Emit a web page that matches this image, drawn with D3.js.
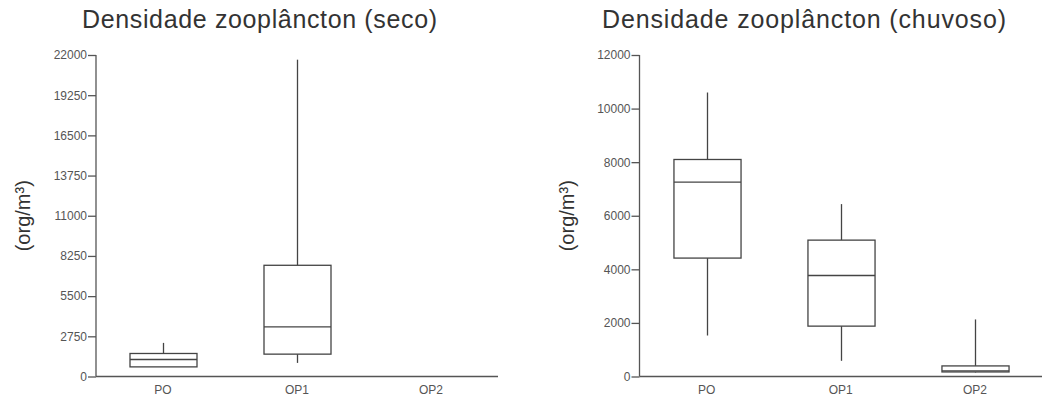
<!DOCTYPE html>
<html>
<head>
<meta charset="utf-8">
<script src="https://cdn.jsdelivr.net/npm/d3@7/dist/d3.min.js"></script>
<style>
  html, body { margin: 0; padding: 0; background: #fff; }
  svg { display: block; }
</style>
</head>
<body>
<svg id="chart" width="1043" height="399"></svg>
<script>
// Sampling stations
const categories = ["PO", "OP1", "OP2"];

// Dry season box statistics (org/m³): min, q1, median, q3, max
const secoMin    = [658, 930, null];
const secoQ1     = [658, 1530, null];
const secoMedian = [1165, 3400, null];
const secoQ3     = [1575, 7610, null];
const secoMax    = [2300, 21680, null];
const secoTicks  = [0, 2750, 5500, 8250, 11000, 13750, 16500, 19250, 22000];

// Rainy season box statistics (org/m³)
const chuvaMin    = [1530, 585, 150];
const chuvaQ1     = [4420, 1880, 170];
const chuvaMedian = [7255, 3770, 210];
const chuvaQ3     = [8100, 5090, 395];
const chuvaMax    = [10600, 6435, 2130];
const chuvaTicks  = [0, 2000, 4000, 6000, 8000, 10000, 12000];

const svg = d3.select("#chart");
const axisColor = "#555";
const textColor = "#555";
const boxColor = "#444";
const font = "Arial, 'Liberation Sans', sans-serif";

function panel(opts) {
  const { title, titleX, titleWidth, left, right, top, bottom, yMax, ticks, labelX,
          mins, q1s, meds, q3s, maxs } = opts;

  const g = svg.append("g");

  const x = d3.scaleBand().domain(categories).range([left, right]).padding(0);
  const y = d3.scaleLinear().domain([0, yMax]).range([bottom, top]);

  // title
  g.append("text")
    .attr("x", titleX).attr("y", 27.5)
    .attr("font-family", font)
    .attr("font-size", 25)
    .attr("fill", "#333")
    .attr("textLength", titleWidth)
    .attr("lengthAdjust", "spacing")
    .text(title);

  // y axis label
  g.append("text")
    .attr("transform", `translate(${labelX},${(top + bottom) / 2}) rotate(-90)`)
    .attr("text-anchor", "middle")
    .attr("font-family", font)
    .attr("font-size", 20)
    .attr("fill", "#333")
    .text("(org/m³)");

  // y axis
  const yAxis = g.append("g")
    .attr("transform", `translate(${left},0)`)
    .call(d3.axisLeft(y).tickValues(ticks).tickSize(8).tickPadding(1).tickFormat(d3.format("d")));
  yAxis.select(".domain").attr("stroke", axisColor).attr("stroke-width", 1.3)
    .attr("d", `M0,${top}V${bottom}`);
  yAxis.selectAll(".tick line").attr("stroke", axisColor).attr("stroke-width", 1.3);
  yAxis.selectAll(".tick text")
    .attr("font-family", font)
    .attr("font-size", 12)
    .attr("fill", textColor);

  // x axis
  const xAxis = g.append("g")
    .attr("transform", `translate(0,${bottom})`)
    .call(d3.axisBottom(x).tickSize(0).tickPadding(9));
  xAxis.select(".domain").attr("stroke", axisColor).attr("stroke-width", 1.3)
    .attr("d", `M${left},0H${right}`);
  xAxis.selectAll(".tick text")
    .attr("font-family", font)
    .attr("font-size", 12)
    .attr("fill", textColor);

  // boxes
  const data = categories.map((c, i) => ({
    c, min: mins[i], q1: q1s[i], med: meds[i], q3: q3s[i], max: maxs[i]
  })).filter(d => d.med !== null);

  const bw = x.bandwidth() / 2;
  const bg = g.append("g").attr("stroke", boxColor).attr("stroke-width", 1.3).attr("fill", "none");

  data.forEach(d => {
    const cx = Math.round(x(d.c) + x.bandwidth() / 2) + 0.5;
    const x0 = cx - bw / 2;
    // upper whisker
    bg.append("line").attr("x1", cx).attr("x2", cx).attr("y1", y(d.q3)).attr("y2", y(d.max));
    // lower whisker
    bg.append("line").attr("x1", cx).attr("x2", cx).attr("y1", y(d.q1)).attr("y2", y(d.min));
    // box
    bg.append("rect").attr("x", x0).attr("y", y(d.q3))
      .attr("width", bw).attr("height", y(d.q1) - y(d.q3))
      .attr("fill", "#fff");
    // median
    bg.append("line").attr("x1", x0).attr("x2", x0 + bw)
      .attr("y1", y(d.med)).attr("y2", y(d.med));
  });
}

panel({
  title: "Densidade zooplâncton (seco)", titleX: 82, titleWidth: 355,
  left: 96, right: 498, top: 55, bottom: 376.5, yMax: 22000, ticks: secoTicks, labelX: 30,
  mins: secoMin, q1s: secoQ1, meds: secoMedian, q3s: secoQ3, maxs: secoMax
});

panel({
  title: "Densidade zooplâncton (chuvoso)", titleX: 602, titleWidth: 404,
  left: 639.5, right: 1042, top: 55, bottom: 376.5, yMax: 12000, ticks: chuvaTicks, labelX: 574,
  mins: chuvaMin, q1s: chuvaQ1, meds: chuvaMedian, q3s: chuvaQ3, maxs: chuvaMax
});
</script>
</body>
</html>
